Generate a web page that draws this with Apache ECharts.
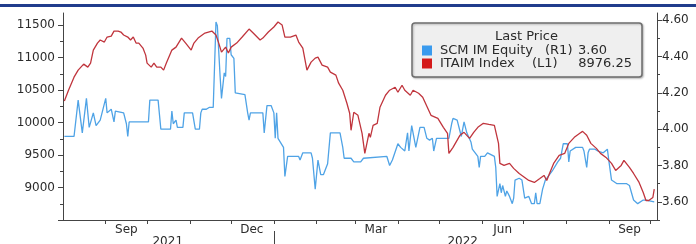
<!DOCTYPE html>
<html>
<head>
<meta charset="utf-8">
<script src="https://cdn.jsdelivr.net/npm/echarts@6/dist/echarts.min.js"></script>
<style>
  body { margin: 0; background: #fff; }
  .chartBox { position: relative; width: 696px; height: 244px; }
  .topRule { position: absolute; left: 0; top: 4px; width: 696px; height: 3px; background: #203c8c; }
  #chart { width: 696px; height: 244px; }
</style>
</head>
<body>
<div class="chartBox">
  <div id="chart"></div>
  <div class="topRule"></div>
</div>
<script>
  // ITAIM Index (left axis)
  const itaimDates = [
    '2021-08-02', '2021-08-05', '2021-08-09', '2021-08-12', '2021-08-14', '2021-08-16', '2021-08-19', '2021-08-21',
    '2021-08-23', '2021-08-26', '2021-08-28', '2021-08-31', '2021-09-02', '2021-09-05', '2021-09-07', '2021-09-10',
    '2021-09-12', '2021-09-14', '2021-09-17', '2021-09-19', '2021-09-21', '2021-09-23', '2021-09-25', '2021-09-28',
    '2021-09-30', '2021-10-01', '2021-10-04', '2021-10-06', '2021-10-08', '2021-10-11', '2021-10-13', '2021-10-15',
    '2021-10-19', '2021-10-22', '2021-10-26', '2021-10-29', '2021-11-02', '2021-11-04', '2021-11-07', '2021-11-12',
    '2021-11-17', '2021-11-20', '2021-11-22', '2021-11-24', '2021-11-27', '2021-11-29', '2021-12-01', '2021-12-05',
    '2021-12-09', '2021-12-14', '2021-12-17', '2021-12-22', '2021-12-24', '2021-12-28', '2022-01-01', '2022-01-04',
    '2022-01-07', '2022-01-09', '2022-01-13', '2022-01-17', '2022-01-19', '2022-01-22', '2022-01-25', '2022-01-28',
    '2022-01-31', '2022-02-02', '2022-02-05', '2022-02-09', '2022-02-11', '2022-02-15', '2022-02-17', '2022-02-20',
    '2022-02-23', '2022-02-25', '2022-02-26', '2022-02-28', '2022-03-03', '2022-03-06', '2022-03-08', '2022-03-11',
    '2022-03-12', '2022-03-14', '2022-03-17', '2022-03-19', '2022-03-23', '2022-03-26', '2022-03-30', '2022-04-01',
    '2022-04-04', '2022-04-06', '2022-04-10', '2022-04-12', '2022-04-16', '2022-04-19', '2022-04-25', '2022-04-30',
    '2022-05-04', '2022-05-07', '2022-05-08', '2022-05-11', '2022-05-16', '2022-05-19', '2022-05-23', '2022-05-26',
    '2022-05-29', '2022-06-02', '2022-06-06', '2022-06-10', '2022-06-13', '2022-06-14', '2022-06-17', '2022-06-21',
    '2022-06-24', '2022-06-28', '2022-07-02', '2022-07-05', '2022-07-09', '2022-07-13', '2022-07-16', '2022-07-18',
    '2022-07-20', '2022-07-23', '2022-07-27', '2022-07-31', '2022-08-03', '2022-08-07', '2022-08-11', '2022-08-13',
    '2022-08-16', '2022-08-19', '2022-08-23', '2022-08-26', '2022-08-30', '2022-09-03', '2022-09-06', '2022-09-10',
    '2022-09-12', '2022-09-16', '2022-09-19', '2022-09-23', '2022-09-26', '2022-09-28', '2022-09-30', '2022-10-03',
    '2022-10-04'
  ]
  const itaimValues = [
    10330, 10497, 10698, 10806, 10852, 10898, 10852, 10914,
    11114, 11222, 11269, 11238, 11315, 11330, 11407, 11407,
    11392, 11346, 11315, 11269, 11315, 11222, 11222, 11145,
    11037, 10914, 10852, 10914, 10852, 10852, 10806, 10914,
    11114, 11160, 11299, 11222, 11114, 11222, 11299, 11377,
    11407, 11346, 11222, 11083, 11160, 11068, 11160, 11222,
    11315, 11438, 11377, 11269, 11299, 11392, 11469, 11546,
    11500, 11315, 11315, 11346, 11238, 11145, 10806, 10929,
    10991, 11006, 10883, 10852, 10775, 10729, 10605, 10497,
    10296, 10142, 9880, 10158, 10111, 9834, 9525, 9834,
    9772, 9957, 9988, 10235, 10420, 10497, 10543, 10466,
    10574, 10497, 10420, 10497, 10451, 10389, 10111, 10065,
    9926, 9834, 9525, 9618, 9803, 9849, 9756, 9849,
    9926, 9988, 9972, 9957, 9679, 9371, 9340, 9371,
    9294, 9216, 9155, 9108, 9078, 9139, 9186, 9108,
    9216, 9371, 9494, 9525, 9679, 9772, 9834, 9864,
    9803, 9679, 9602, 9525, 9463, 9371, 9263, 9340,
    9417, 9309, 9216, 9078, 8923, 8800, 8800, 8846,
    8976.25
  ]

  // SCM IM Equity (right axis)
  const scmDates = [
    '2021-08-02', '2021-08-09', '2021-08-12', '2021-08-15', '2021-08-18', '2021-08-20', '2021-08-23', '2021-08-25',
    '2021-08-28', '2021-09-01', '2021-09-02', '2021-09-05', '2021-09-07', '2021-09-08', '2021-09-14', '2021-09-16',
    '2021-09-17', '2021-09-18', '2021-10-02', '2021-10-03', '2021-10-09', '2021-10-11', '2021-10-18', '2021-10-19',
    '2021-10-20', '2021-10-22', '2021-10-23', '2021-10-27', '2021-10-28', '2021-11-03', '2021-11-05', '2021-11-08',
    '2021-11-09', '2021-11-10', '2021-11-13', '2021-11-15', '2021-11-18', '2021-11-20', '2021-11-21', '2021-11-23',
    '2021-11-24', '2021-11-26', '2021-11-27', '2021-11-28', '2021-11-30', '2021-12-01', '2021-12-03', '2021-12-04',
    '2021-12-11', '2021-12-13', '2021-12-14', '2021-12-15', '2021-12-24', '2021-12-25', '2021-12-27', '2021-12-30',
    '2022-01-01', '2022-01-02', '2022-01-03', '2022-01-04', '2022-01-08', '2022-01-09', '2022-01-11', '2022-01-19',
    '2022-01-20', '2022-01-22', '2022-01-28', '2022-01-29', '2022-01-31', '2022-02-02', '2022-02-04', '2022-02-06',
    '2022-02-09', '2022-02-11', '2022-02-18', '2022-02-20', '2022-02-21', '2022-02-26', '2022-02-28', '2022-03-05',
    '2022-03-07', '2022-03-24', '2022-03-26', '2022-03-28', '2022-04-01', '2022-04-03', '2022-04-06', '2022-04-08',
    '2022-04-09', '2022-04-11', '2022-04-13', '2022-04-14', '2022-04-17', '2022-04-20', '2022-04-22', '2022-04-24',
    '2022-04-26', '2022-04-27', '2022-04-29', '2022-05-08', '2022-05-10', '2022-05-11', '2022-05-14', '2022-05-16',
    '2022-05-17', '2022-05-19', '2022-05-21', '2022-05-24', '2022-05-25', '2022-05-26', '2022-05-29', '2022-05-30',
    '2022-05-31', '2022-06-03', '2022-06-05', '2022-06-10', '2022-06-11', '2022-06-12', '2022-06-13', '2022-06-14',
    '2022-06-15', '2022-06-16', '2022-06-17', '2022-06-18', '2022-06-19', '2022-06-21', '2022-06-23', '2022-06-24',
    '2022-06-25', '2022-06-28', '2022-06-30', '2022-07-02', '2022-07-05', '2022-07-07', '2022-07-09', '2022-07-10',
    '2022-07-11', '2022-07-13', '2022-07-15', '2022-07-17', '2022-07-20', '2022-07-22', '2022-07-26', '2022-07-28',
    '2022-07-30', '2022-08-02', '2022-08-03', '2022-08-04', '2022-08-08', '2022-08-13', '2022-08-14', '2022-08-16',
    '2022-08-17', '2022-08-18', '2022-08-22', '2022-08-24', '2022-08-28', '2022-08-31', '2022-09-01', '2022-09-03',
    '2022-09-07', '2022-09-14', '2022-09-16', '2022-09-19', '2022-09-20', '2022-09-22', '2022-09-26', '2022-09-28',
    '2022-10-04'
  ]
  const scmValues = [
    3.96, 3.96, 4.16, 3.98, 4.17, 4.01, 4.09, 4.02,
    4.05, 4.17, 4.09, 4.11, 4.04, 4.10, 4.09, 4.03,
    3.96, 4.04, 4.04, 4.16, 4.16, 4.00, 4.00, 4.10,
    4.03, 4.05, 4.01, 4.01, 4.09, 4.09, 4.00, 4.00,
    4.09, 4.11, 4.11, 4.12, 4.12, 4.59, 4.57, 4.29,
    4.17, 4.31, 4.29, 4.50, 4.50, 4.41, 4.39, 4.20,
    4.19, 4.09, 4.05, 4.09, 4.09, 3.98, 4.13, 4.13,
    4.09, 3.95, 4.09, 3.95, 3.90, 3.74, 3.85, 3.85,
    3.83, 3.87, 3.87, 3.84, 3.67, 3.83, 3.75, 3.75,
    3.81, 3.98, 3.98, 3.90, 3.84, 3.84, 3.82, 3.82,
    3.84, 3.85, 3.80, 3.83, 3.92, 3.90, 3.88, 3.98,
    3.88, 4.02, 3.94, 3.90, 4.01, 4.01, 3.95, 3.94,
    3.95, 3.88, 3.95, 3.95, 4.03, 4.06, 4.05, 3.99,
    3.96, 4.04, 3.98, 3.93, 3.89, 3.88, 3.85, 3.79,
    3.85, 3.85, 3.87, 3.85, 3.79, 3.63, 3.62, 3.70,
    3.65, 3.69, 3.66, 3.63, 3.66, 3.63, 3.59, 3.62,
    3.72, 3.73, 3.72, 3.62, 3.63, 3.59, 3.59, 3.65,
    3.59, 3.59, 3.67, 3.72, 3.75, 3.77, 3.82, 3.84,
    3.92, 3.92, 3.82, 3.88, 3.90, 3.90, 3.88, 3.79,
    3.87, 3.89, 3.89, 3.88, 3.87, 3.89, 3.83, 3.72,
    3.70, 3.70, 3.69, 3.61, 3.62, 3.59, 3.61, 3.61,
    3.60
  ]

  // x axis: range, month ticks, month labels, year labels
  const xStart = '2021-08-01'
  const xEnd = '2022-10-06'
  const monthStarts = [
    '2021-09-01', '2021-10-01', '2021-11-01', '2021-12-01', '2022-01-01', '2022-02-01', '2022-03-01',
    '2022-04-01', '2022-05-01', '2022-06-01', '2022-07-01', '2022-08-01', '2022-09-01', '2022-10-01'
  ]
  const monthLabelDates = ['2021-09-16', '2021-12-16', '2022-03-16', '2022-06-16', '2022-09-16']
  const monthLabelText = ['Sep', 'Dec', 'Mar', 'Jun', 'Sep']
  const yearBreaks = ['2022-01-01']
  const yearLabelDates = ['2021-10-16', '2022-05-18']
  const yearLabelText = ['2021', '2022']

  // y axis ticks
  const leftLabels = [9000, 9500, 10000, 10500, 11000, 11500]
  const leftMajorTicks = [8500, 9000, 9500, 10000, 10500, 11000, 11500]
  const leftMinorTicks = [8750, 9250, 9750, 10250, 10750, 11250]
  const rightLabels = [3.6, 3.8, 4.0, 4.2, 4.4, 4.6]
  const rightMinorTicks = [3.5, 3.7, 3.9, 4.1, 4.3, 4.5]

  const toTime = (s) => new Date(s + 'T00:00:00').getTime()
  const pickLabel = (dates, texts) => (v) => {
    const i = dates.findIndex((d) => Math.abs(toTime(d) - v) < 864e5)
    return i < 0 ? '' : texts[i]
  }

  const fontFamily = 'DejaVu Sans'
  const axisColor = '#444'
  const textColor = '#2b2b2b'
  const blue = '#4fa3e6'
  const red = '#c0353d'

  const myChart = echarts.init(document.getElementById('chart'))

  // 只画小刻度的辅助轴
  const minorAxis = (position, min, max, ticks) => ({
    type: 'value',
    position: position,
    min: min,
    max: max,
    axisLine: { show: false },
    axisTick: { show: true, customValues: ticks, length: 3, lineStyle: { color: axisColor } },
    axisLabel: { show: false },
    splitLine: { show: false }
  })

  const lastScm = scmValues[scmValues.length - 1].toFixed(2)
  const lastItaim = itaimValues[itaimValues.length - 1].toFixed(2)

  const option = {
    animation: false,
    backgroundColor: '#fff',
    textStyle: { fontFamily: fontFamily },
    grid: { left: 63, right: 39, top: 13, bottom: 24, outerBoundsMode: 'none' },
    title: {
      text: 'Last Price',
      left: 495,
      top: 30,
      padding: 0,
      z: 10,
      textStyle: { fontFamily: fontFamily, fontSize: 13, fontWeight: 'normal', color: textColor }
    },
    legend: {
      orient: 'vertical',
      left: 412,
      top: 23,
      padding: [21, 10, 7, 10],
      itemWidth: 10,
      itemHeight: 10,
      itemGap: 0,
      icon: 'rect',
      selectedMode: false,
      backgroundColor: '#efefef',
      borderColor: '#6e6e6e',
      borderWidth: 1.5,
      borderRadius: 3,
      shadowColor: 'rgba(0,0,0,0.25)',
      shadowBlur: 2,
      shadowOffsetX: 1,
      shadowOffsetY: 1,
      data: [
        { name: 'SCM IM Equity', itemStyle: { color: '#3a9bee' } },
        { name: 'ITAIM Index', itemStyle: { color: '#d41a1a' } }
      ],
      formatter: (name) =>
        name === 'SCM IM Equity'
          ? '{a|SCM IM Equity}{b|(R1)}{c|' + lastScm + '}'
          : '{d|ITAIM Index}{e|(L1)}{f|' + lastItaim + '}',
      textStyle: {
        fontFamily: fontFamily,
        fontSize: 13,
        color: textColor,
        lineHeight: 13,
        rich: {
          a: { width: 105, padding: [0, 0, 0, 3], fontSize: 13, color: textColor },
          b: { width: 33, fontSize: 13, color: textColor },
          c: { fontSize: 13, color: textColor },
          d: { width: 92, padding: [0, 0, 0, 3], fontSize: 13, color: textColor },
          e: { width: 30, fontSize: 13, color: textColor },
          f: { width: 70, align: 'right', fontSize: 13, color: textColor }
        }
      }
    },
    xAxis: [
      {
        type: 'value',
        min: toTime(xStart),
        max: toTime(xEnd),
        position: 'bottom',
        axisLine: { show: true, lineStyle: { color: axisColor, width: 1 } },
        axisTick: { show: true, customValues: monthStarts.map(toTime), length: 4, lineStyle: { color: axisColor } },
        axisLabel: {
          customValues: monthLabelDates.map(toTime),
          formatter: pickLabel(monthLabelDates, monthLabelText),
          margin: 4,
          fontSize: 12,
          color: textColor
        },
        splitLine: { show: false }
      },
      {
        type: 'value',
        min: toTime(xStart),
        max: toTime(xEnd),
        position: 'bottom',
        offset: 11,
        axisLine: { show: false },
        axisTick: { show: true, customValues: yearBreaks.map(toTime), length: 14, lineStyle: { color: axisColor } },
        axisLabel: {
          customValues: yearLabelDates.map(toTime),
          formatter: pickLabel(yearLabelDates, yearLabelText),
          margin: 5,
          fontSize: 12,
          color: textColor
        },
        splitLine: { show: false }
      }
    ],
    yAxis: [
      {
        type: 'value',
        position: 'left',
        min: 8500,
        max: 11685,
        axisLine: { show: true, lineStyle: { color: axisColor, width: 1 } },
        axisTick: { show: true, customValues: leftMajorTicks, length: 5, lineStyle: { color: axisColor } },
        axisLabel: {
          customValues: leftLabels,
          formatter: (v) => String(v),
          margin: 8,
          fontSize: 12,
          color: textColor
        },
        splitLine: { show: false }
      },
      {
        type: 'value',
        position: 'right',
        min: 3.5,
        max: 4.64,
        axisLine: { show: true, lineStyle: { color: axisColor, width: 1 } },
        axisTick: { show: true, customValues: rightLabels, length: 5, lineStyle: { color: axisColor } },
        axisLabel: {
          customValues: rightLabels,
          formatter: (v) => v.toFixed(2),
          margin: 5,
          fontSize: 12,
          color: textColor
        },
        splitLine: { show: false }
      },
      minorAxis('left', 8500, 11685, leftMinorTicks),
      minorAxis('right', 3.5, 4.64, rightMinorTicks)
    ],
    series: [
      {
        name: 'SCM IM Equity',
        type: 'line',
        yAxisIndex: 1,
        showSymbol: false,
        symbol: 'none',
        lineStyle: { color: blue, width: 1.3 },
        itemStyle: { color: blue },
        data: scmDates.map((d, i) => [toTime(d), scmValues[i]])
      },
      {
        name: 'ITAIM Index',
        type: 'line',
        yAxisIndex: 0,
        showSymbol: false,
        symbol: 'none',
        lineStyle: { color: red, width: 1.3 },
        itemStyle: { color: red },
        data: itaimDates.map((d, i) => [toTime(d), itaimValues[i]])
      }
    ]
  }

  myChart.setOption(option)
</script>
</body>
</html>
